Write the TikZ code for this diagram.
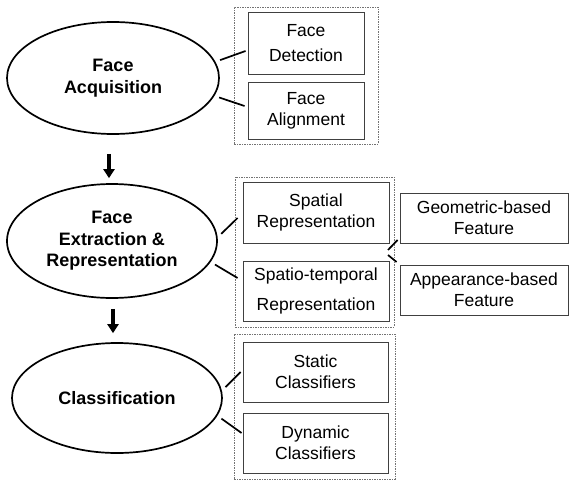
\documentclass[tikz,border=0pt]{standalone}
\usepackage{fontspec}
\setmainfont{Liberation Sans}
\usetikzlibrary{shapes.geometric,arrows.meta}
\begin{document}
\begin{tikzpicture}[x=1pt,y=-1pt,
  stage/.style={ellipse,draw,line width=1.7pt,inner sep=0pt,align=center,font=\fontsize{18}{21.5}\selectfont\bfseries},
  item/.style={draw=black!75,line width=0.9pt,inner sep=0pt,align=center,font=\fontsize{17.5}{21}\selectfont},
  group/.style={draw=black!55,line width=0.8pt,dash pattern=on 2pt off 1.2pt on 0.6pt off 1.2pt,inner sep=0pt},
  link/.style={line width=1.7pt,shorten <=5pt},
  flow/.style={line width=3.8pt,-{Triangle[length=9pt,width=11pt]}}]

\useasboundingbox (0,0) rectangle (573,490);

\node[group,minimum width=144pt,minimum height=137pt] (g1) at (306,75.5) {};
\node[group,minimum width=159pt,minimum height=150pt] (g2) at (314.5,252) {};
\node[group,minimum width=161pt,minimum height=145pt] (g3) at (314.5,406.5) {};

\node[item,minimum width=116pt,minimum height=62pt] (det) at (306,43) {Face\\[4pt]Detection};
\node[item,minimum width=116pt,minimum height=57pt] (ali) at (306,110.5) {Face\\Alignment};
\node[item,minimum width=146pt,minimum height=61pt] (spa) at (316,212.5) {Spatial\\Representation};
\node[item,minimum width=146pt,minimum height=60pt] (spt) at (316,291) {Spatio-temporal\\[9pt]Representation};
\node[item,minimum width=168pt,minimum height=50pt] (geo) at (484,218) {Geometric-based\\Feature};
\node[item,minimum width=168pt,minimum height=50pt] (app) at (484,290) {Appearance-based\\Feature};
\node[item,minimum width=145pt,minimum height=60pt] (sta) at (315.5,372) {Static\\Classifiers};
\node[item,minimum width=145pt,minimum height=60pt] (dyn) at (315.5,443) {Dynamic\\Classifiers};

\node[stage,minimum width=212pt,minimum height=112pt] (acq) at (113,78) {Face\\Acquisition};
\node[stage,minimum width=210pt,minimum height=114pt] (ext) at (112,241) {Face\\Extraction \&\\Representation};
\node[stage,minimum width=210pt,minimum height=110pt] (cls) at (117,398) {Classification};

\coordinate (fk) at (388,252);

\draw[link] (acq.9) -- ([xshift=-2pt,yshift=-8pt]det.west);
\draw[link] (acq.-10) -- ([xshift=-3pt,yshift=4.5pt]ali.west);
\draw[link] (ext.2) -- ([xshift=-5pt,yshift=-5.5pt]spa.west);
\draw[link] (ext.-12) -- ([xshift=-5pt,yshift=13pt]spt.west);
\draw[link,shorten <=0pt] ([yshift=2pt]fk) -- ([xshift=-2pt,yshift=-22pt]geo.west);
\draw[link,shorten <=0pt] ([yshift=-3pt]fk) -- ([xshift=-3pt,yshift=28pt]app.west);
\draw[link] (cls.4) -- ([xshift=-2pt]sta.west);
\draw[link] (cls.-10) -- ([xshift=-1pt,yshift=10pt]dyn.west);

\draw[flow,shorten <=19pt,shorten >=5pt] ([xshift=-4pt]acq.south) -- ([xshift=-3pt]ext.north);
\draw[flow,shorten <=10pt,shorten >=9pt] ([xshift=1pt]ext.south) -- ([xshift=-4pt]cls.north);

\end{tikzpicture}
\end{document}
